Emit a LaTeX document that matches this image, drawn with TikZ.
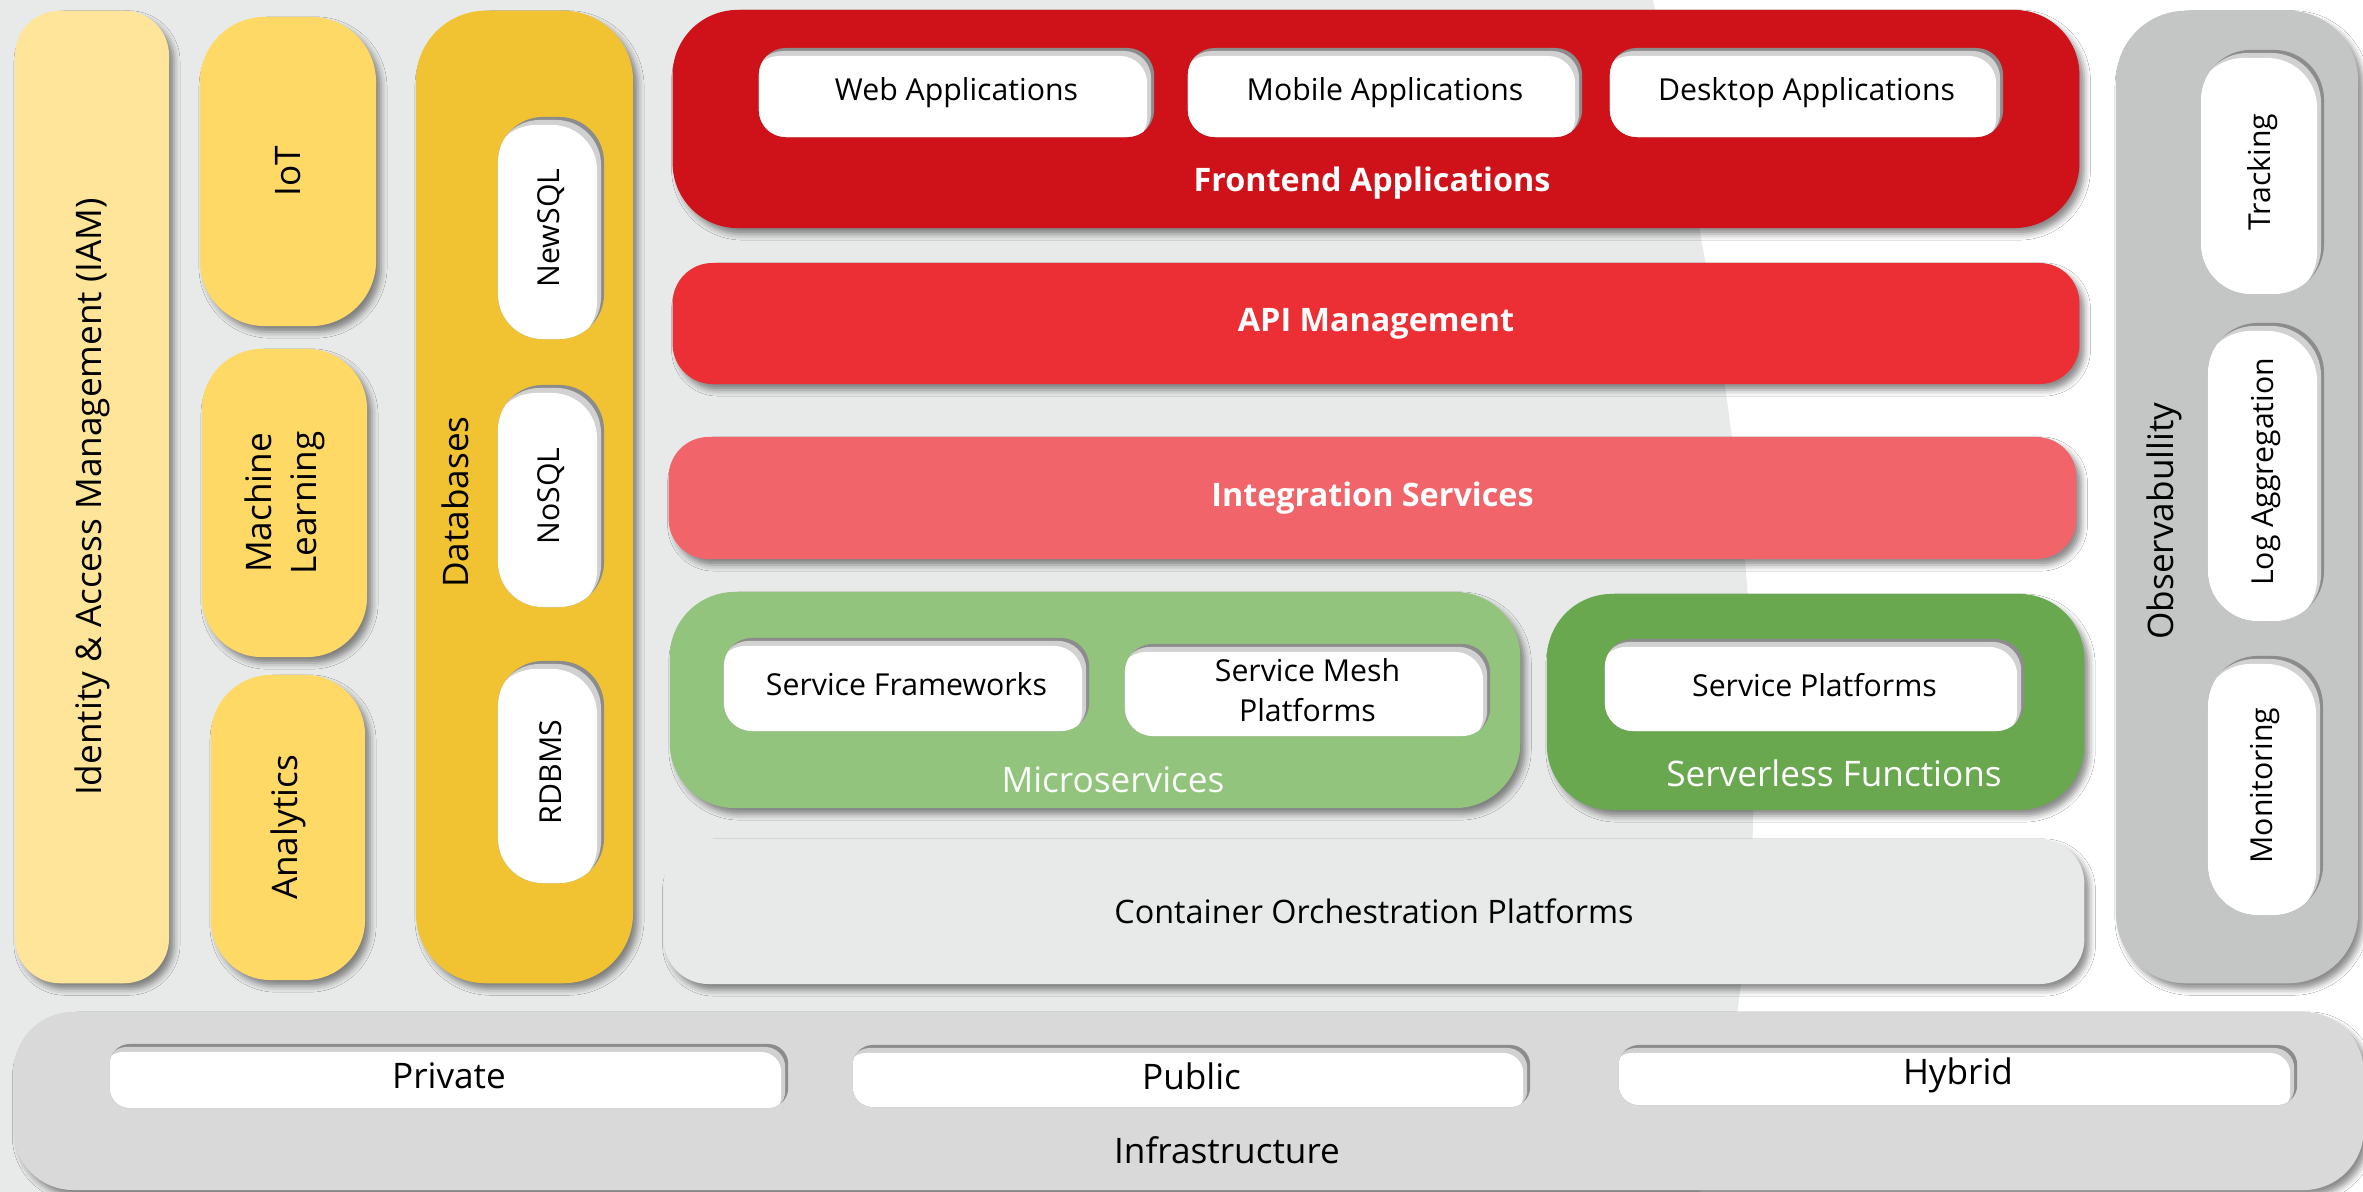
\documentclass[tikz,border=0pt]{standalone}
\usepackage{fontspec}
\setmainfont{Open Sans}
\usepackage{tikz}
\usetikzlibrary{shadows.blur, positioning}

\definecolor{bggray}{RGB}{232,234,233}
\definecolor{iamyellow}{RGB}{255,229,153}
\definecolor{sideyellow}{RGB}{255,217,102}
\definecolor{dbyellow}{RGB}{241,194,50}
\definecolor{frontred}{RGB}{207,18,25}
\definecolor{apired}{RGB}{236,46,53}
\definecolor{integred}{RGB}{240,100,106}
\definecolor{microgreen}{RGB}{147,196,125}
\definecolor{slessgreen}{RGB}{106,168,79}
\definecolor{contgray}{RGB}{232,234,233}
\definecolor{obsgray}{RGB}{195,198,197}
\definecolor{infragray}{RGB}{217,217,217}

\newcommand{\labfont}{\fontsize{10}{12.8}\selectfont}
\newcommand{\slotfont}{\fontsize{8.6}{11.4}\selectfont}
\newcommand{\headfont}{\fontsize{9.2}{11}\selectfont\bfseries}

\tikzset{
    panel/.style={rounded corners=#1, inner sep=0pt, align=center, font=\labfont,
        blur shadow={shadow xshift=0.5mm, shadow yshift=-0.6mm, shadow blur radius=0.6mm, shadow opacity=45}},
    slot/.style={rounded corners=#1, inner sep=0pt, align=center, fill=black!45, font=\slotfont,
        path picture={
            \fill[black!18, rounded corners=#1] ([xshift=-0.3mm, yshift=-0.3mm]path picture bounding box.north west) rectangle ([xshift=-0.3mm, yshift=-0.3mm]path picture bounding box.south east);
            \fill[white, rounded corners=#1] ([xshift=-0.7mm, yshift=-0.8mm]path picture bounding box.north west) rectangle ([xshift=-0.7mm, yshift=-0.8mm]path picture bounding box.south east);
        }},
    title/.style={text=white, font=\headfont},
}

\begin{document}
\begin{tikzpicture}[x=0.01cm, y=-0.01cm]
    % Background
    \useasboundingbox (0,0) rectangle (2363,1192);
    \fill[bggray] (0,0) rectangle (2363,1192);
    \fill[white] (1653,0) .. controls (1730,350) and (1810,800) .. (1700,1192) -- (2363,1192) -- (2363,0) -- cycle;

    % Identity & access management
    \node[panel=4.5mm, fill=iamyellow, minimum width=15.4mm, minimum height=97.2mm] (iam) at (92,497) {\rotatebox{90}{Identity \& Access Management (IAM)}};

    % IoT, machine learning, analytics
    \node[panel=6.5mm, fill=sideyellow, minimum width=17.6mm, minimum height=30.9mm] (iot) at (288,171.5) {\rotatebox{90}{IoT}};
    \node[panel=6mm, fill=sideyellow, minimum width=16.5mm, minimum height=30.8mm] (ml) at (284.5,503) {\rotatebox{90}{\begin{tabular}{@{}c@{}}Machine\\Learning\end{tabular}}};
    \node[panel=6mm, fill=sideyellow, minimum width=15.4mm, minimum height=30.5mm] (analytics) at (288,827.5) {\rotatebox{90}{Analytics}};

    % Databases
    \node[panel=7mm, fill=dbyellow, minimum width=21.7mm, minimum height=97.2mm] (db) at (524.5,497) {};
    \node[font=\labfont] (dblabel) at (455,502) {\rotatebox{90}{Databases}};
    \node[slot=4.5mm, minimum width=10.6mm, minimum height=22.2mm] (newsql) at (551,228) {\rotatebox{90}{NewSQL}};
    \node[slot=4.5mm, minimum width=10.6mm, minimum height=22.2mm] (nosql) at (551,496) {\rotatebox{90}{NoSQL}};
    \node[slot=4.5mm, minimum width=10.6mm, minimum height=22.2mm] (rdbms) at (551,772) {\rotatebox{90}{RDBMS}};

    % Frontend applications
    \node[panel=6.5mm, fill=frontred, minimum width=140.6mm, minimum height=21.8mm] (front) at (1376,119) {};
    \node[slot=2.7mm, minimum width=39.5mm, minimum height=8.9mm] (web) at (956.5,92.5) {Web Applications};
    \node[slot=2.7mm, minimum width=39.4mm, minimum height=8.9mm] (mobile) at (1385,92.5) {Mobile Applications};
    \node[slot=2.7mm, minimum width=39.3mm, minimum height=8.9mm] (desktop) at (1806.5,92.5) {Desktop Applications};
    \node[title] (frontlabel) at (1372,183) {Frontend Applications};

    % API management and integration
    \node[panel=4mm, fill=apired, minimum width=140.6mm, minimum height=12.1mm, title] (api) at (1376,323.5) {API Management};
    \node[panel=4mm, fill=integred, minimum width=140.7mm, minimum height=12.2mm, title] (integ) at (1372.5,498) {Integration Services};

    % Microservices
    \node[panel=6.5mm, fill=microgreen, minimum width=85mm, minimum height=21.6mm] (micro) at (1095,700) {};
    \node[slot=2.8mm, minimum width=36.5mm, minimum height=9.3mm] (frameworks) at (906.5,684.5) {Service Frameworks};
    \node[slot=2.8mm, minimum width=36.5mm, minimum height=9.2mm] (mesh) at (1307.5,690) {Service Mesh\\Platforms};
    \node[text=white!95!microgreen, font=\labfont] (microlabel) at (1113,780) {Microservices};

    % Serverless functions
    \node[panel=6.5mm, fill=slessgreen, minimum width=53.7mm, minimum height=21.6mm] (serverless) at (1815.5,702) {};
    \node[slot=2.8mm, minimum width=41.9mm, minimum height=9.2mm] (splatforms) at (1814.5,685) {Service Platforms};
    \node[text=white, font=\labfont] (serverlesslabel) at (1834,773) {Serverless Functions};

    % Container orchestration
    \node[panel=4.5mm, fill=contgray, minimum width=142mm, minimum height=14.5mm, font=\fontsize{9.2}{11}\selectfont] (container) at (1374,911.5) {Container Orchestration Platforms};

    % Observability
    \node[panel=7mm, fill=obsgray, minimum width=24.2mm, minimum height=97.2mm] (obs) at (2237,497) {};
    \node[font=\labfont] (obslabel) at (2164,521) {\rotatebox{90}{Observabullity}};
    \node[slot=5mm, minimum width=12.3mm, minimum height=24.4mm] (tracking) at (2262.5,172) {\rotatebox{90}{Tracking}};
    \node[slot=5mm, minimum width=11.6mm, minimum height=29.8mm] (logagg) at (2266,472) {\rotatebox{90}{Log Aggregation}};
    \node[slot=5mm, minimum width=11.5mm, minimum height=25.9mm] (monitoring) at (2265.5,785.5) {\rotatebox{90}{Monitoring}};

    % Infrastructure
    \node[panel=6mm, fill=infragray, minimum width=234.9mm, minimum height=17.8mm] (infra) at (1188.5,1101) {};
    \node[slot=2mm, minimum width=67.8mm, minimum height=6.4mm, font=\labfont] (private) at (449,1076) {Private};
    \node[slot=2mm, minimum width=67.7mm, minimum height=6.2mm, font=\labfont] (public) at (1191.5,1076) {Public};
    \node[slot=2mm, minimum width=67.8mm, minimum height=6mm, font=\labfont] (hybrid) at (1958,1075) {Hybrid};
    \node[font=\labfont] (infralabel) at (1227,1150) {Infrastructure};
\end{tikzpicture}
\end{document}
